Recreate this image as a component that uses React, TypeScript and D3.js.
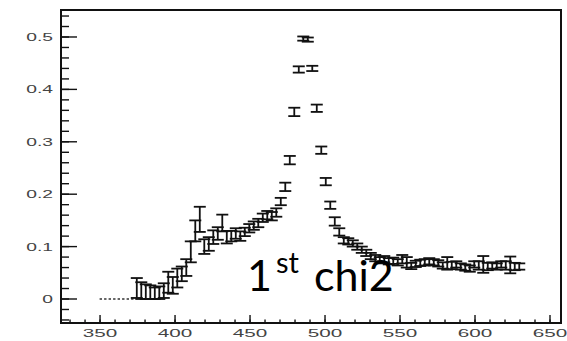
import { useEffect, useRef } from 'react';
import * as d3 from 'd3';

// bin centres (mass), content and error
const zeroBins = [350.5, 353.5, 356.5, 359.5, 362.5, 365.5, 368.5, 371.5];
const binX = [
  374.5, 377.5, 380.5, 383.5, 386.5, 389.5, 392.5, 395.5, 398.5, 401.5,
  404.5, 407.5, 410.5, 413.5, 416.5, 419.5, 422.5, 425.5, 428.5, 431.5,
  434.5, 437.5, 440.5, 443.5, 446.5, 449.5, 452.5, 455.5, 458.5, 461.5,
  464.5, 467.5, 470.5, 473.5, 476.5, 479.5, 482.5, 485.5, 488.5, 491.5,
  494.5, 497.5, 500.5, 503.5, 506.5, 509.5, 512.5, 515.5, 518.5, 521.5,
  524.5, 527.5, 530.5, 533.5, 536.5, 539.5, 542.5, 545.5, 548.5, 551.5,
  554.5, 557.5, 560.5, 563.5, 566.5, 569.5, 572.5, 575.5, 578.5, 581.5,
  584.5, 587.5, 590.5, 593.5, 596.5, 599.5, 602.5, 605.5, 608.5, 611.5,
  614.5, 617.5, 620.5, 623.5, 626.5, 629.5,
];
const binY = [
  0.021, 0.016, 0.014, 0.013, 0.011, 0.012, 0.016, 0.032, 0.026, 0.040,
  0.048, 0.060, 0.090, 0.130, 0.152, 0.100, 0.105, 0.118, 0.125, 0.145,
  0.118, 0.120, 0.125, 0.120, 0.128, 0.135, 0.140, 0.145, 0.155, 0.160,
  0.158, 0.165, 0.186, 0.214, 0.265, 0.357, 0.438, 0.497, 0.495, 0.440,
  0.364, 0.284, 0.224, 0.179, 0.148, 0.128, 0.112, 0.110, 0.106, 0.100,
  0.094, 0.088, 0.082, 0.078, 0.074, 0.076, 0.072, 0.073, 0.070, 0.076,
  0.070, 0.063, 0.067, 0.069, 0.070, 0.072, 0.070, 0.068, 0.064, 0.068,
  0.064, 0.066, 0.062, 0.060, 0.058, 0.066, 0.064, 0.066, 0.062, 0.064,
  0.062, 0.066, 0.064, 0.065, 0.062, 0.062,
];
const binErr = [
  0.019, 0.016, 0.014, 0.013, 0.011, 0.012, 0.014, 0.020, 0.016, 0.018,
  0.014, 0.016, 0.020, 0.020, 0.024, 0.014, 0.013, 0.013, 0.012, 0.016,
  0.012, 0.010, 0.010, 0.009, 0.008, 0.008, 0.008, 0.008, 0.008, 0.008,
  0.008, 0.008, 0.007, 0.008, 0.008, 0.008, 0.006, 0.004, 0.004, 0.005,
  0.007, 0.007, 0.007, 0.007, 0.008, 0.007, 0.006, 0.006, 0.006, 0.006,
  0.006, 0.006, 0.006, 0.006, 0.006, 0.006, 0.006, 0.006, 0.006, 0.008,
  0.010, 0.006, 0.006, 0.006, 0.006, 0.006, 0.006, 0.006, 0.006, 0.012,
  0.007, 0.006, 0.006, 0.006, 0.006, 0.006, 0.008, 0.016, 0.007, 0.006,
  0.006, 0.006, 0.008, 0.016, 0.007, 0.006,
];
const xTicks = [350, 400, 450, 500, 550, 600, 650];
const yTicks = [0, 0.1, 0.2, 0.3, 0.4, 0.5];

export default function App() {
  const svgRef = useRef<SVGSVGElement>(null);

  useEffect(() => {
    if (!svgRef.current) return;
    const svg = d3.select(svgRef.current);
    svg.selectAll('*').remove();

    const x = d3.scaleLinear().domain([323.3, 658]).range([60, 562]);
    const y = d3.scaleLinear().domain([-0.0458, 0.5515]).range([323, 10]);
    const ink = '#111';

    // minor + major ticks on y
    const yMinor = d3.range(-0.04, 0.545, 0.02);
    svg.append('g').selectAll('line').data(yMinor).enter().append('line')
      .attr('x1', 61).attr('x2', 69)
      .attr('y1', d => y(d)).attr('y2', d => y(d))
      .attr('stroke', ink).attr('stroke-width', 1.4);
    svg.append('g').selectAll('line').data(yTicks).enter().append('line')
      .attr('x1', 61).attr('x2', 77)
      .attr('y1', d => y(d)).attr('y2', d => y(d))
      .attr('stroke', ink).attr('stroke-width', 1.4);

    // x ticks
    const xMinor = d3.range(330, 658, 10);
    svg.append('g').selectAll('line').data(xMinor).enter().append('line')
      .attr('x1', d => x(d)).attr('x2', d => x(d))
      .attr('y1', 323).attr('y2', 319.5)
      .attr('stroke', ink).attr('stroke-width', 1.4);
    svg.append('g').selectAll('line').data(xTicks).enter().append('line')
      .attr('x1', d => x(d)).attr('x2', d => x(d))
      .attr('y1', 323).attr('y2', 315)
      .attr('stroke', ink).attr('stroke-width', 1.4);

    // frame
    svg.append('rect').attr('x', 61).attr('y', 10).attr('width', 500).attr('height', 313)
      .attr('fill', 'none').attr('stroke', ink).attr('stroke-width', 2);

    // tick labels (stretched ROOT style)
    const lab = { fill: '#444', font: 'Liberation Sans' };
    yTicks.forEach(v => {
      svg.append('text')
        .attr('transform', `translate(53,${y(v) + 4}) scale(1.75,1)`)
        .attr('text-anchor', 'end').attr('font-family', lab.font).attr('font-size', 11)
        .attr('fill', lab.fill).text(v === 0 ? '0' : d3.format('.1f')(v));
    });
    xTicks.forEach(v => {
      svg.append('text')
        .attr('transform', `translate(${x(v)},337) scale(1.8,1)`)
        .attr('text-anchor', 'middle').attr('font-family', lab.font).attr('font-size', 11.5)
        .attr('fill', lab.fill).text(v);
    });

    // empty bins
    svg.append('g').selectAll('line').data(zeroBins).enter().append('line')
      .attr('x1', d => x(d) - 1.2).attr('x2', d => x(d) + 1.2)
      .attr('y1', y(0)).attr('y2', y(0))
      .attr('stroke', ink).attr('stroke-width', 1.3);

    // error bars
    const pts = binX.map((bx, i) => ({ x: bx, y: binY[i], e: binErr[i] }));
    const g = svg.append('g').attr('stroke', ink).attr('stroke-width', 1.8).attr('fill', 'none');
    const cap = 6;
    pts.forEach(p => {
      const cx = x(p.x);
      g.append('line').attr('x1', cx).attr('x2', cx).attr('y1', y(p.y - p.e)).attr('y2', y(p.y + p.e));
      g.append('line').attr('x1', cx - cap).attr('x2', cx + cap).attr('y1', y(p.y - p.e)).attr('y2', y(p.y - p.e));
      g.append('line').attr('x1', cx - cap).attr('x2', cx + cap).attr('y1', y(p.y + p.e)).attr('y2', y(p.y + p.e));
    });

    // annotation
    const ann = svg.append('g').attr('font-family', 'Lato').attr('fill', '#000');
    ann.append('text').attr('x', 247).attr('y', 291).attr('font-size', 43).text('1');
    ann.append('text').attr('x', 276).attr('y', 273).attr('font-size', 29).text('st');
    ann.append('text').attr('x', 314).attr('y', 291).attr('font-size', 43).text('chi2');
  }, []);

  return (
    <div style={{ position: 'fixed', left: 0, top: 0, background: '#fff' }}>
      <svg ref={svgRef} width={567} height={341} viewBox="0 0 567 341" style={{ display: 'block' }} />
    </div>
  );
}
